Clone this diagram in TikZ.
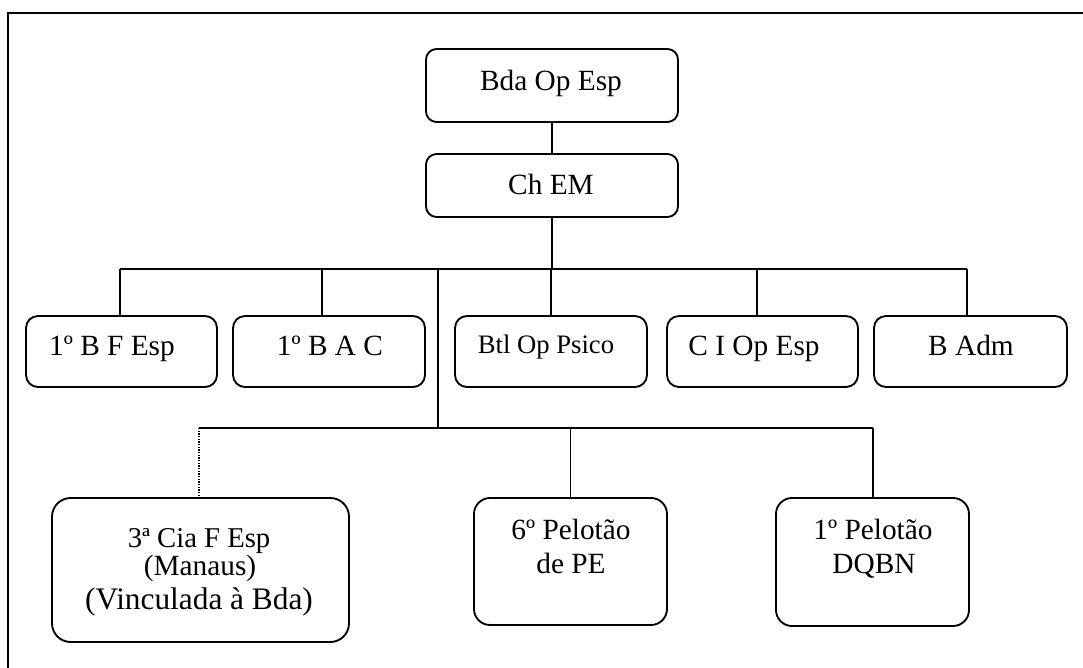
\documentclass[tikz,border=0pt]{standalone}
\usepackage{fontspec}
\setmainfont{Liberation Serif}
\usetikzlibrary{fit}

\tikzset{
  unitbox/.style={draw, line width=1.4pt, inner sep=0pt, rounded corners=8pt},
  lowbox/.style={unitbox, rounded corners=12pt},
  lbl/.style={anchor=base, inner sep=0pt, font=\fontsize{22}{26}\selectfont},
  lblsmall/.style={lbl, font=\fontsize{20}{24}\selectfont},
  wire/.style={line width=1.3pt},
  dotwire/.style={line width=1.1pt, dash pattern=on 1pt off 1pt},
}

\begin{document}
\begin{tikzpicture}[x=0.75pt, y=-0.75pt]
\useasboundingbox (0,0) rectangle (1083,668);

% outer frame, open past the right and bottom edges
\begin{scope}
  \clip (0,0) rectangle (1083,668);
  \draw[line width=1.9pt] (8,13) rectangle (1110,700);
\end{scope}

% command level
\node[unitbox, fit={(426,49) (678,122)}] (bda) {};
\node[unitbox, fit={(426,154) (678,217)}] (chem) {};
\node[lbl] (tbda) at (551,90) {Bda Op Esp};
\node[lbl] (tchem) at (551,194) {Ch EM};

% battalions
\node[unitbox, rounded corners=9pt, fit={(26,316) (217,387)}] (bfesp) {};
\node[unitbox, rounded corners=9pt, fit={(233,316) (425,387)}] (bac) {};
\node[unitbox, rounded corners=9pt, fit={(455,316) (647,387)}] (psico) {};
\node[unitbox, rounded corners=9pt, fit={(667,316) (858,387)}] (ciop) {};
\node[unitbox, rounded corners=9pt, fit={(874,316) (1067,387)}] (badm) {};
\node[lbl] (tbfesp) at (112,355) {1º B F Esp};
\node[lbl] (tbac) at (330,355) {1º B A C};
\node[lblsmall] (tpsico) at (546,353) {Btl Op Psico};
\node[lbl] (tciop) at (754,355) {C I Op Esp};
\node[lbl] (tbadm) at (971,355) {B Adm};

% subunits
\node[lowbox, rounded corners=14pt, fit={(52,498) (349,642)}] (cia) {};
\node[lowbox, fit={(474,498) (667,625)}] (pe) {};
\node[lowbox, fit={(776,498) (969,626)}] (dqbn) {};
\node[lbl, font=\fontsize{21.5}{25}\selectfont] (tcia1) at (199,547) {3ª Cia F Esp};
\node[lbl, font=\fontsize{22}{26}\selectfont] (tcia2) at (200,575) {(Manaus)};
\node[lbl, font=\fontsize{23.5}{28}\selectfont] (tcia3) at (199,609) {(Vinculada à Bda)};
\node[lbl] (tpe1) at (571,539) {6º Pelotão};
\node[lbl] (tpe2) at (571,573) {de PE};
\node[lbl] (tdq1) at (873,539) {1º Pelotão};
\node[lbl] (tdq2) at (874,573) {DQBN};

% junction points
\coordinate (barA) at (552,269);
\coordinate (barAL) at (120,269);
\coordinate (barAR) at (967,269);
\coordinate (dropB) at (322,269);
\coordinate (dropD) at (757,269);
\coordinate (splitA) at (438,269);
\coordinate (splitB) at (438,428);
\coordinate (barBL) at (199,428);
\coordinate (barBR) at (873,428);

% connectors
\draw[wire] (bda.south) -- (chem.north);
\draw[wire] (chem.south) -- (barA);
\draw[wire] (barAL) -- (barAR);
\draw[wire] (barAL) -- (barAL |- bfesp.north);
\draw[wire] (dropB) -- (dropB |- bac.north);
\draw[wire] (psico.north |- barA) -- (psico.north);
\draw[wire] (dropD) -- (dropD |- ciop.north);
\draw[wire] (barAR) -- (barAR |- badm.north);
\draw[wire] (splitA) -- (splitB);
\draw[wire] (barBL) -- (barBR);
\draw[dotwire] (barBL) -- (barBL |- cia.north);
\draw[wire] (pe.north |- splitB) -- (pe.north);
\draw[wire] (barBR) -- (barBR |- dqbn.north);
\end{tikzpicture}
\end{document}
